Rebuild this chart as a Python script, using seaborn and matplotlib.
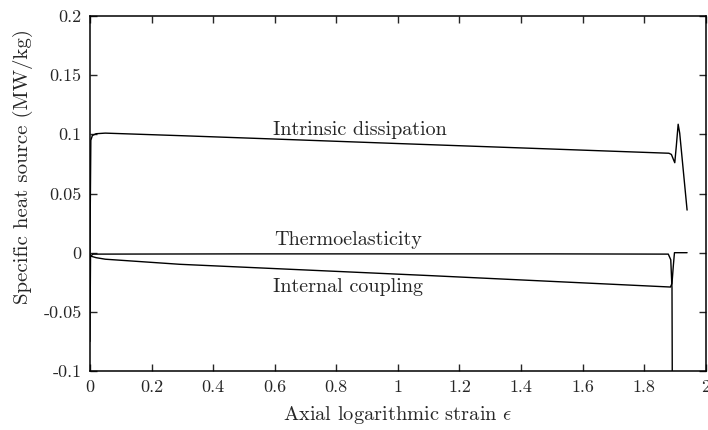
import pandas as pd
import matplotlib.pyplot as plt
import seaborn as sns
import numpy as np

# Data (strain, MW/kg)
diss_x = [0.0, 0.003, 0.008, 0.02, 0.05, 0.3, 0.6, 1.0, 1.4, 1.88, 1.888, 1.895, 1.899, 1.904, 1.910, 1.915, 1.939]
diss_y = [0.0, 0.095, 0.099, 0.1005, 0.101, 0.0988, 0.0960, 0.0922, 0.0885, 0.0840, 0.0830, 0.0785, 0.0760, 0.090, 0.1085, 0.101, 0.036]

thermo_x = [0.0, 0.002, 0.01, 0.5, 1.0, 1.5, 1.878, 1.886, 1.890, 1.892]
thermo_y = [-0.075, -0.003, -0.0012, -0.0010, -0.0010, -0.0010, -0.0012, -0.006, -0.03, -0.2]

coupl_x = [0.0, 0.004, 0.02, 0.05, 0.292, 1.1, 1.885, 1.890, 1.894, 1.898, 1.939]
coupl_y = [-0.001, -0.003, -0.0042, -0.0055, -0.0098, -0.0193, -0.029, -0.026, -0.012, 0.0, 0.0]

labels = ['Intrinsic dissipation', 'Thermoelasticity', 'Internal coupling']
label_pos = [(0.593, 0.0995), (0.597, 0.0065), (0.594, -0.033)]

xticks = [0, 0.2, 0.4, 0.6, 0.8, 1.0, 1.2, 1.4, 1.6, 1.8, 2.0]
xticklabels = ['0', '0.2', '0.4', '0.6', '0.8', '1', '1.2', '1.4', '1.6', '1.8', '2']
yticks = [-0.1, -0.05, 0, 0.05, 0.1, 0.15, 0.2]
yticklabels = ['-0.1', '-0.05', '0', '0.05', '0.1', '0.15', '0.2']

sns.set_style('ticks')
plt.rcParams['font.family'] = ['cmr10', 'DejaVu Serif']
plt.rcParams['mathtext.fontset'] = 'cm'
plt.rcParams['axes.unicode_minus'] = False

fig = plt.figure(figsize=(7.08, 4.30), dpi=100)
ax = fig.add_axes([0.127, 0.137, 0.870, 0.826])

for xs, ys in [(diss_x, diss_y), (thermo_x, thermo_y), (coupl_x, coupl_y)]:
    df = pd.DataFrame({'x': xs, 'y': ys})
    sns.lineplot(data=df, x='x', y='y', ax=ax, color='black', linewidth=1.0,
                 estimator=None, sort=False)

for txt, (tx, ty) in zip(labels, label_pos):
    ax.text(tx, ty, txt, fontsize=14.5, va='baseline', ha='left')

ax.set_xlim(0, 2)
ax.set_ylim(-0.1, 0.2)
ax.set_xticks(xticks)
ax.set_xticklabels(xticklabels, fontsize=13)
ax.set_yticks(yticks)
ax.set_yticklabels(yticklabels, fontsize=13)
ax.tick_params(direction='in', length=5, width=1, top=True, right=True, pad=6)
for s in ax.spines.values():
    s.set_linewidth(1.1)
    s.set_color('black')
ax.set_xlabel(r'Axial logarithmic strain $\epsilon$', fontsize=14.7, labelpad=7)
ax.set_ylabel('Specific heat source (MW/kg)', fontsize=15)
ax.yaxis.set_label_coords(-0.093, 0.577)

fig.savefig('out.png', dpi=100)
